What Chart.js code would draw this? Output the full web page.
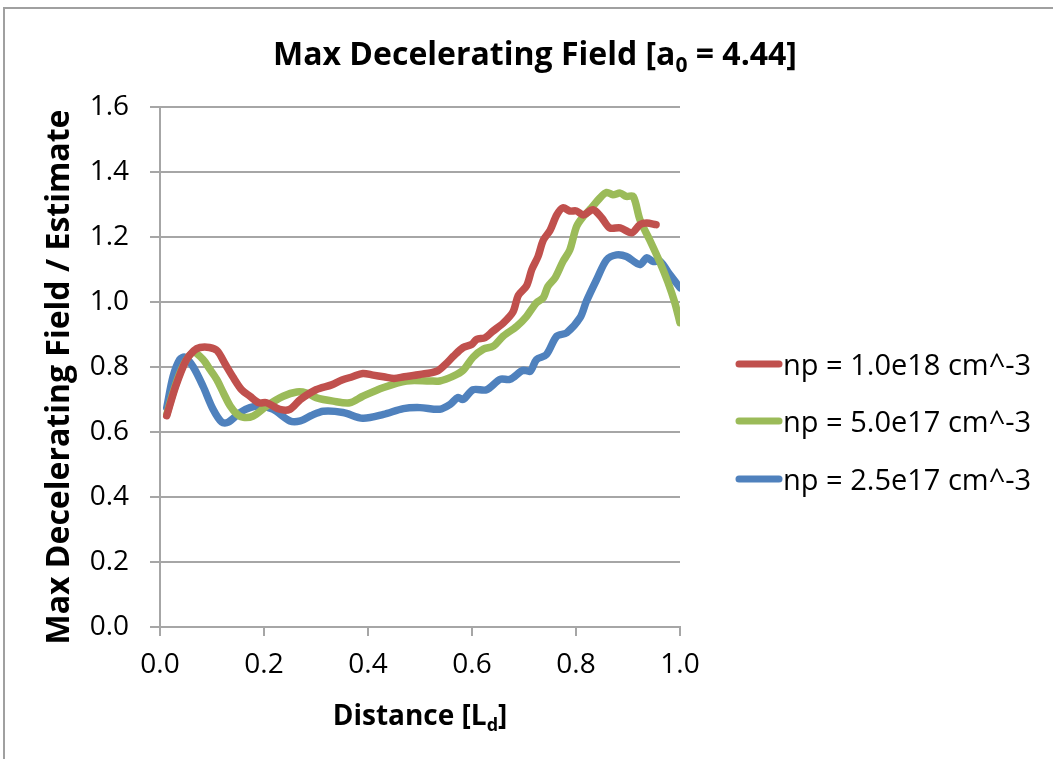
<!DOCTYPE html>
<html>
<head>
<meta charset="utf-8">
<title>Max Decelerating Field</title>
<script src="https://cdn.jsdelivr.net/npm/chart.js@4.4.1/dist/chart.umd.min.js"></script>
<style>
    html, body { margin: 0; padding: 0; background: #fff; }
    #wrap { width: 1053px; height: 759px; }
</style>
</head>
<body>
<div id="wrap"><canvas id="chart" width="1053" height="759"></canvas></div>
<script>
// np = 1.0e18 cm^-3
const distRed = [0.013, 0.03, 0.05, 0.065, 0.077, 0.095, 0.11, 0.125, 0.14, 0.157, 0.173, 0.19, 0.205, 0.23, 0.25, 0.27, 0.30, 0.33, 0.35, 0.37, 0.39, 0.41, 0.43, 0.45, 0.47, 0.50, 0.532, 0.55, 0.564, 0.583, 0.60, 0.609, 0.625, 0.64, 0.66, 0.679, 0.689, 0.705, 0.715, 0.727, 0.737, 0.75, 0.763, 0.775, 0.788, 0.801, 0.814, 0.833, 0.849, 0.865, 0.885, 0.907, 0.923, 0.936, 0.954];
const fieldRed = [0.65, 0.74, 0.82, 0.85, 0.86, 0.86, 0.85, 0.81, 0.77, 0.73, 0.71, 0.69, 0.69, 0.67, 0.67, 0.70, 0.73, 0.745, 0.76, 0.77, 0.78, 0.775, 0.77, 0.765, 0.77, 0.777, 0.787, 0.81, 0.833, 0.86, 0.87, 0.885, 0.89, 0.91, 0.935, 0.97, 1.02, 1.05, 1.10, 1.14, 1.19, 1.22, 1.268, 1.29, 1.28, 1.28, 1.268, 1.284, 1.26, 1.228, 1.228, 1.213, 1.238, 1.243, 1.238];

// np = 5.0e17 cm^-3
const distGreen = [0.013, 0.025, 0.038, 0.05, 0.064, 0.083, 0.095, 0.109, 0.122, 0.135, 0.148, 0.16, 0.179, 0.205, 0.237, 0.263, 0.282, 0.30, 0.333, 0.365, 0.39, 0.43, 0.474, 0.519, 0.538, 0.564, 0.583, 0.602, 0.622, 0.641, 0.66, 0.686, 0.705, 0.724, 0.737, 0.746, 0.76, 0.775, 0.788, 0.801, 0.814, 0.83, 0.846, 0.859, 0.871, 0.885, 0.897, 0.91, 0.923, 0.942, 0.962, 0.977, 0.99, 1.0];
const fieldGreen = [0.654, 0.72, 0.78, 0.82, 0.845, 0.823, 0.795, 0.762, 0.72, 0.68, 0.655, 0.645, 0.649, 0.68, 0.71, 0.723, 0.72, 0.706, 0.695, 0.69, 0.71, 0.737, 0.757, 0.757, 0.757, 0.772, 0.79, 0.83, 0.855, 0.864, 0.895, 0.925, 0.956, 0.998, 1.013, 1.048, 1.075, 1.125, 1.16, 1.232, 1.263, 1.29, 1.32, 1.337, 1.33, 1.335, 1.325, 1.325, 1.253, 1.19, 1.12, 1.06, 0.998, 0.936];

// np = 2.5e17 cm^-3
const distBlue = [0.013, 0.025, 0.038, 0.048, 0.064, 0.083, 0.102, 0.119, 0.131, 0.154, 0.173, 0.192, 0.217, 0.25, 0.27, 0.29, 0.314, 0.352, 0.39, 0.43, 0.468, 0.50, 0.538, 0.558, 0.573, 0.583, 0.602, 0.628, 0.654, 0.673, 0.698, 0.712, 0.724, 0.743, 0.763, 0.782, 0.808, 0.82, 0.84, 0.859, 0.878, 0.897, 0.923, 0.936, 0.948, 0.962, 0.98, 1.0];
const fieldBlue = [0.675, 0.77, 0.823, 0.83, 0.80, 0.74, 0.67, 0.63, 0.63, 0.66, 0.675, 0.68, 0.67, 0.634, 0.634, 0.65, 0.664, 0.66, 0.642, 0.654, 0.672, 0.675, 0.67, 0.685, 0.706, 0.70, 0.73, 0.73, 0.762, 0.762, 0.79, 0.787, 0.823, 0.838, 0.895, 0.905, 0.952, 1.002, 1.07, 1.13, 1.145, 1.14, 1.115, 1.136, 1.125, 1.125, 1.085, 1.044];

const seriesLabels = ['np = 1.0e18 cm^-3', 'np = 5.0e17 cm^-3', 'np = 2.5e17 cm^-3'];
const seriesColors = ['#C0504D', '#9BBB59', '#4F81BD'];

const FONT = '"Open Sans", "Liberation Sans", sans-serif';
const GRID = '#a6a6a6';

function toPoints(xs, ys) {
    return xs.map((x, i) => ({ x: x, y: ys[i] }));
}

// draws a run of text pieces where some pieces are subscripts
function drawRich(ctx, parts, x, y, size, weight, align) {
    const subSize = Math.round(size * 0.65);
    const widths = parts.map(p => {
        ctx.font = `${weight} ${p.sub ? subSize : size}px ${FONT}`;
        return ctx.measureText(p.t).width;
    });
    const total = widths.reduce((a, b) => a + b, 0);
    let cx = align === 'center' ? x - total / 2 : x;
    ctx.textAlign = 'left';
    ctx.textBaseline = 'middle';
    parts.forEach((p, i) => {
        ctx.font = `${weight} ${p.sub ? subSize : size}px ${FONT}`;
        ctx.fillText(p.t, cx, p.sub ? y + size * 0.3 : y);
        cx += widths[i];
    });
}

const decorations = {
    id: 'decorations',
    beforeDraw(chart) {
        const ctx = chart.ctx;
        ctx.save();
        ctx.fillStyle = '#fff';
        ctx.fillRect(0, 0, chart.width, chart.height);
        // outer frame (only its top and left edges fall inside the canvas)
        ctx.strokeStyle = '#a0a0a0';
        ctx.lineWidth = 2;
        ctx.beginPath();
        ctx.moveTo(4, chart.height + 5);
        ctx.lineTo(4, 8);
        ctx.lineTo(chart.width + 5, 8);
        ctx.stroke();
        ctx.restore();
    },
    afterDraw(chart) {
        const ctx = chart.ctx;
        ctx.save();
        ctx.fillStyle = '#000';

        // title
        drawRich(ctx, [
            { t: 'Max Decelerating Field [a' },
            { t: '0', sub: true },
            { t: ' = 4.44]' }
        ], 535, 56, 32, 'bold', 'center');

        // x axis title
        drawRich(ctx, [
            { t: 'Distance [L' },
            { t: 'd', sub: true },
            { t: ']' }
        ], 420, 717, 28, 'bold', 'center');

        // y axis title
        ctx.translate(60, 377);
        ctx.rotate(-Math.PI / 2);
        ctx.font = `bold 32px ${FONT}`;
        ctx.textAlign = 'center';
        ctx.textBaseline = 'middle';
        ctx.fillText('Max Decelerating Field / Estimate', 0, 0);
        ctx.restore();

        // legend
        ctx.save();
        const rows = [364, 421, 479];
        chart.data.datasets.forEach((ds, i) => {
            ctx.strokeStyle = ds.borderColor;
            ctx.lineWidth = 7;
            ctx.lineCap = 'round';
            ctx.beginPath();
            ctx.moveTo(739, rows[i]);
            ctx.lineTo(779, rows[i]);
            ctx.stroke();
            ctx.fillStyle = '#000';
            ctx.font = `29px ${FONT}`;
            ctx.textAlign = 'left';
            ctx.textBaseline = 'middle';
            ctx.fillText(ds.label, 783, rows[i] + 3);
        });
        ctx.restore();
    }
};

const ctx = document.getElementById('chart').getContext('2d');
new Chart(ctx, {
    type: 'line',
    data: {
        datasets: [
            { label: seriesLabels[0], data: toPoints(distRed, fieldRed), borderColor: seriesColors[0] },
            { label: seriesLabels[1], data: toPoints(distGreen, fieldGreen), borderColor: seriesColors[1] },
            { label: seriesLabels[2], data: toPoints(distBlue, fieldBlue), borderColor: seriesColors[2] }
        ]
    },
    options: {
        responsive: false,
        animation: false,
        devicePixelRatio: 1,
        layout: { padding: { left: 0, right: 373, top: 107, bottom: 0 } },
        elements: {
            line: { borderWidth: 7.5, tension: 0.3, borderCapStyle: 'round', borderJoinStyle: 'round' },
            point: { radius: 0 }
        },
        plugins: {
            legend: { display: false },
            tooltip: { enabled: false }
        },
        scales: {
            x: {
                type: 'linear',
                min: 0,
                max: 1,
                afterFit: s => { s.height = 132; },
                ticks: {
                    stepSize: 0.2,
                    padding: 12,
                    color: '#000',
                    font: { family: FONT, size: 28 },
                    callback: v => v.toFixed(1)
                },
                grid: { drawOnChartArea: false, drawTicks: true, tickLength: 9, color: GRID, lineWidth: 2 },
                border: { color: GRID, width: 2 }
            },
            y: {
                min: 0,
                max: 1.6,
                afterFit: s => { s.width = 160; },
                ticks: {
                    stepSize: 0.2,
                    padding: 21,
                    color: '#000',
                    font: { family: FONT, size: 28 },
                    callback: v => v.toFixed(1)
                },
                grid: { color: GRID, lineWidth: 2, tickLength: 10 },
                border: { color: GRID, width: 2 }
            }
        }
    },
    plugins: [decorations]
});
</script>
</body>
</html>
